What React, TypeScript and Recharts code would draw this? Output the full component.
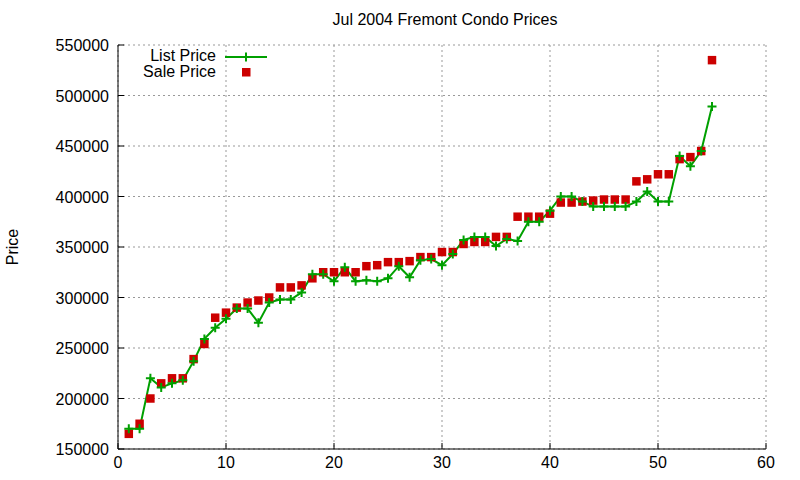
import React from 'react';
import { ComposedChart, Line, Scatter, XAxis, YAxis, ZAxis, CartesianGrid, Legend } from 'recharts';

const listPrice = [
    170000, 170000, 220000, 211000, 215000, 218000, 237000, 259000, 270000, 279000,
    289000, 289000, 275000, 295000, 298000, 298000, 305000, 323000, 323000, 316000,
    330000, 316000, 317000, 316000, 319000, 331000, 320000, 337000, 338000, 332000,
    343000, 357000, 360000, 360000, 351000, 358000, 356000, 375000, 375000, 386000,
    400000, 400000, 395000, 390000, 390000, 390000, 390000, 395000, 405000, 395000,
    395000, 440000, 430000, 445000, 489000,
];

const salePrice = [
    165000, 175000, 200000, 215000, 220000, 220000, 239000, 254000, 280000, 285000,
    290000, 295000, 297000, 300000, 310000, 310000, 312000, 319000, 325000, 325000,
    325000, 325000, 331000, 332000, 335000, 335000, 336000, 340000, 340000, 345000,
    345000, 353000, 355000, 355000, 360000, 360000, 380000, 380000, 380000, 383000,
    394000, 394000, 395000, 396000, 397000, 397000, 397000, 415000, 417000, 422000,
    422000, 437000, 439000, 445000, 535000,
];

const xTicks = [0, 10, 20, 30, 40, 50, 60];
const yTicks = [150000, 200000, 250000, 300000, 350000, 400000, 450000, 500000, 550000];

const TITLE = 'Jul 2004 Fremont Condo Prices';
const Y_LABEL = 'Price';
const LIST_NAME = 'List Price';
const SALE_NAME = 'Sale Price';

const GREEN = '#00a000';
const RED = '#cc0000';
const FONT = '"Liberation Sans", Arial, sans-serif';

const data = listPrice.map((v, i) => ({ n: i + 1, list: v, sale: salePrice[i] }));

const TICK_LEN = 6;

// gnuplot style: ticks point inward, labels outside
const BottomTick = ({ x, y, payload }: any) => (
    <g>
        <line x1={x} y1={y} x2={x} y2={y - TICK_LEN} stroke="#000" />
        <text x={x} y={y + 19} textAnchor="middle" fontSize={16} fontFamily={FONT} fill="#000">
            {payload.value}
        </text>
    </g>
);

const LeftTick = ({ x, y, payload }: any) => (
    <g>
        <line x1={x} y1={y} x2={x + TICK_LEN} y2={y} stroke="#000" />
        <text x={x - 9} y={y + 6} textAnchor="end" fontSize={16} fontFamily={FONT} fill="#000">
            {payload.value}
        </text>
    </g>
);

const TopTick = ({ x, y }: any) => <line x1={x} y1={y} x2={x} y2={y + TICK_LEN} stroke="#000" />;
const RightTick = ({ x, y }: any) => <line x1={x} y1={y} x2={x - TICK_LEN} y2={y} stroke="#000" />;

const PlusDot = ({ cx, cy }: any) => {
    if (cx == null || cy == null) return null;
    return (
        <path
            d={`M${cx - 4.5},${cy}h9M${cx},${cy - 4.5}v9`}
            stroke={GREEN}
            strokeWidth={2}
            fill="none"
        />
    );
};

const Overlay = () => (
    <svg width={800} height={480} style={{ position: 'absolute', left: 0, top: 0, pointerEvents: 'none' }}>
        <text x={445} y={25} textAnchor="middle" fontSize={16} fontFamily={FONT} fill="#000">
            {TITLE}
        </text>
        <text
            x={12}
            y={247}
            transform="rotate(-90 12 247)"
            textAnchor="middle"
            dominantBaseline="central"
            fontSize={16}
            fontFamily={FONT}
            fill="#000"
        >
            {Y_LABEL}
        </text>
        <text x={216} y={61} textAnchor="end" fontSize={16} fontFamily={FONT} fill="#000">
            {LIST_NAME}
        </text>
        <line x1={225} y1={57} x2={267} y2={57} stroke={GREEN} strokeWidth={2} />
        <PlusDot cx={246} cy={57} />
        <text x={216} y={77} textAnchor="end" fontSize={16} fontFamily={FONT} fill="#000">
            {SALE_NAME}
        </text>
        <rect x={242} y={68} width={8.5} height={8.5} fill={RED} />
    </svg>
);

export default function App() {
    return (
        <div style={{ position: 'absolute', left: 0, top: 0, width: 800, height: 480, background: '#fff' }}>
            <ComposedChart width={800} height={480} data={data} margin={{ top: 45, right: 34, bottom: 0, left: 0 }}>
                <CartesianGrid stroke="#999" strokeDasharray="2 3" />
                <XAxis
                    dataKey="n"
                    type="number"
                    domain={[0, 60]}
                    ticks={xTicks}
                    allowDataOverflow
                    height={31}
                    tickSize={0}
                    tickMargin={0}
                    tickLine={false}
                    axisLine={{ stroke: '#000' }}
                    tick={<BottomTick />}
                    interval={0}
                />
                <XAxis
                    xAxisId="top"
                    orientation="top"
                    type="number"
                    dataKey="n"
                    domain={[0, 60]}
                    ticks={xTicks}
                    allowDataOverflow
                    height={0}
                    tickSize={0}
                    tickMargin={0}
                    tickLine={false}
                    axisLine={{ stroke: '#000' }}
                    tick={<TopTick />}
                    interval={0}
                />
                <YAxis
                    type="number"
                    domain={[150000, 550000]}
                    ticks={yTicks}
                    allowDataOverflow
                    width={118}
                    tickSize={0}
                    tickMargin={0}
                    tickLine={false}
                    axisLine={{ stroke: '#000' }}
                    tick={<LeftTick />}
                    interval={0}
                />
                <YAxis
                    yAxisId="right"
                    orientation="right"
                    type="number"
                    domain={[150000, 550000]}
                    ticks={yTicks}
                    allowDataOverflow
                    width={0}
                    tickSize={0}
                    tickMargin={0}
                    tickLine={false}
                    axisLine={{ stroke: '#000' }}
                    tick={<RightTick />}
                    interval={0}
                />
                <ZAxis range={[72, 72]} />
                <Line
                    type="linear"
                    dataKey="list"
                    name={LIST_NAME}
                    stroke={GREEN}
                    strokeWidth={2}
                    dot={<PlusDot />}
                    activeDot={false}
                    isAnimationActive={false}
                />
                <Scatter
                    dataKey="sale"
                    name={SALE_NAME}
                    fill={RED}
                    shape="square"
                    isAnimationActive={false}
                />
                <Legend
                    layout="vertical"
                    align="center"
                    verticalAlign="middle"
                    wrapperStyle={{ left: 0, top: 0, width: 800, height: 0 }}
                    content={() => <Overlay />}
                />
            </ComposedChart>
        </div>
    );
}
